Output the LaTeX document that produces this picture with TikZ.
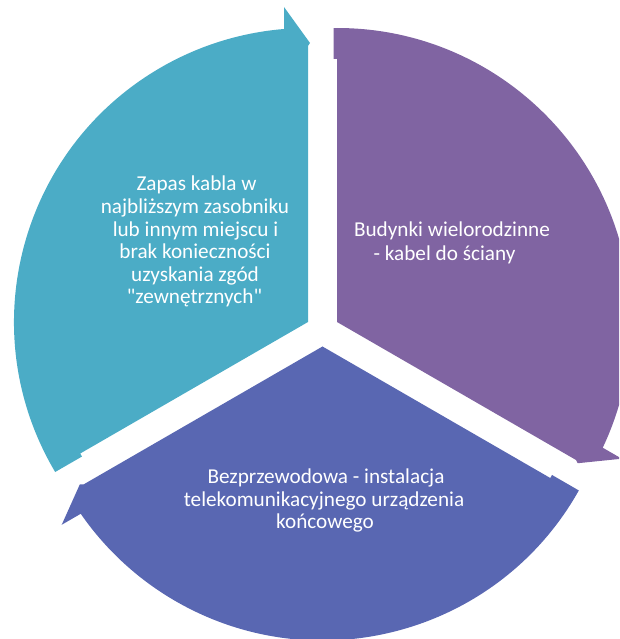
\documentclass[tikz,border=0pt]{standalone}
\usepackage{fontspec}
\setmainfont{Carlito}[Ligatures=TeXOff]
\usetikzlibrary{calc}
\definecolor{segteal}{RGB}{75,172,198}
\definecolor{segpurple}{RGB}{128,100,162}
\definecolor{segblue}{RGB}{89,103,178}
% one exploded pie segment of the cycle, with its arrow barb at the clockwise end
% #1 apex, #2 start angle (the segment spans 120 degrees clockwise), #3 fill colour
\newcommand\cyclesegment[3]{%
  \pgfmathsetmacro\segstart{#2}%
  \pgfmathsetmacro\segend{#2-120}%
  \fill[#3] (#1) -- ($(#1)+(\segstart:263)$)
    -- ($(#1)+(\segstart:263)+(\segstart+90:3.5)$)
    -- ($(#1)+(\segstart+0.68:294)$)
    arc[start angle=\segstart+0.68, end angle=\segend+4.68, radius=294]
    -- ($(#1)+(\segend:315)+(\segend+90:24)$)
    -- ($(#1)+(\segend:279)+(\segend-90:2)$)
    -- ($(#1)+(\segend:276)$) -- cycle;}
\tikzset{
  segtext/.style={text=white, inner sep=0pt, anchor=base,
    font=\fontsize{21.2pt}{22.6pt}\selectfont}
}
\begin{document}
\begin{tikzpicture}[x=1pt,y=1pt]
  \useasboundingbox (0,0) rectangle (619,639);
  \clip (0,0) rectangle (619,639);
  \coordinate (apexT) at (308,317);
  \coordinate (apexP) at (337,317);
  \coordinate (apexB) at (322.5,292.5);
  \cyclesegment{apexT}{210}{segteal}
  \cyclesegment{apexP}{90}{segpurple}
  \cyclesegment{apexB}{-30}{segblue}
  % teal segment
  \node[segtext] (t1) at (196.5,448) {Zapas kabla w};
  \node[segtext] (t2) at (195,425.4) {najbliższym zasobniku};
  \node[segtext] (t3) at (195.5,402.8) {lub innym miejscu i};
  \node[segtext] (t4) at (195,380.2) {brak konieczności};
  \node[segtext] (t5) at (195,357.6) {uzyskania zgód};
  \node[segtext] (t6) at (194.5,335) {"zewnętrznych"};
  % purple segment
  \node[segtext] (p1) at (452,402) {Budynki wielorodzinne};
  \node[segtext] (p2) at (444.5,378) {- kabel do ściany};
  % blue segment
  \node[segtext] (b1) at (326,155) {Bezprzewodowa - instalacja};
  \node[segtext] (b2) at (324,132) {telekomunikacyjnego urządzenia};
  \node[segtext] (b3) at (325,110) {końcowego};
\end{tikzpicture}
\end{document}
